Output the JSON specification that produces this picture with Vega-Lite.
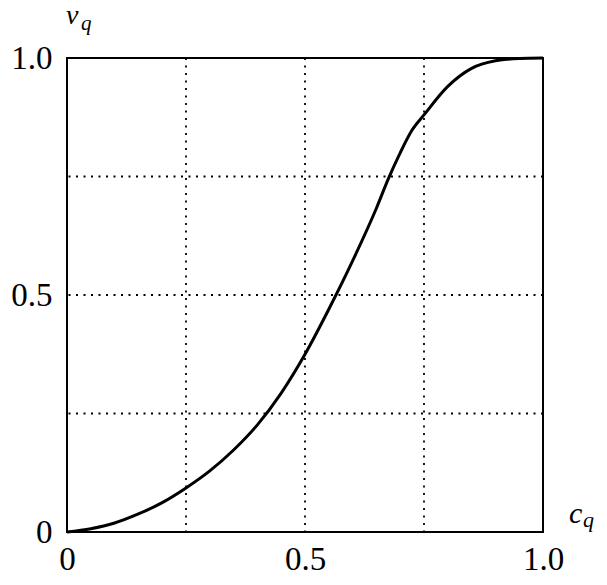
{
  "$schema": "https://vega.github.io/schema/vega-lite/v6.json",
  "width": 476,
  "height": 474,
  "autosize": {"type": "none"},
  "padding": {"left": 67, "top": 58, "right": 64, "bottom": 53},
  "background": "white",
  "config": {
    "view": {"stroke": "black", "strokeWidth": 2},
    "font": "'Liberation Serif', 'DejaVu Serif', serif",
    "text": {"font": "'Liberation Serif', 'DejaVu Serif', serif"},
    "axis": {
      "grid": false, "ticks": false, "domain": false, "labelFlush": false,
      "labelFont": "'Liberation Serif', 'DejaVu Serif', serif", "labelFontSize": 33, "labelColor": "black",
      "title": null
    }
  },
  "datasets": {
    "curve": [
      {"c": 0.0, "v": 0.0},
      {"c": 0.05, "v": 0.007},
      {"c": 0.1, "v": 0.019},
      {"c": 0.15, "v": 0.038},
      {"c": 0.2, "v": 0.062},
      {"c": 0.25, "v": 0.093},
      {"c": 0.3, "v": 0.129},
      {"c": 0.35, "v": 0.173},
      {"c": 0.4, "v": 0.226},
      {"c": 0.45, "v": 0.293},
      {"c": 0.5, "v": 0.375},
      {"c": 0.55, "v": 0.47},
      {"c": 0.6, "v": 0.572},
      {"c": 0.65, "v": 0.683},
      {"c": 0.675, "v": 0.745},
      {"c": 0.7, "v": 0.8},
      {"c": 0.725, "v": 0.848},
      {"c": 0.75, "v": 0.88},
      {"c": 0.8, "v": 0.94},
      {"c": 0.85, "v": 0.978},
      {"c": 0.9, "v": 0.994},
      {"c": 0.95, "v": 0.999},
      {"c": 1.0, "v": 1.0}
    ],
    "grid": [{"g": 0.25}, {"g": 0.5}, {"g": 0.75}]
  },
  "layer": [
    {
      "data": {"name": "grid"},
      "mark": {"type": "rule", "color": "black", "strokeWidth": 1.8, "strokeDash": [2, 5.5]},
      "encoding": {
        "x": {"field": "g", "type": "quantitative", "scale": {"domain": [0, 1], "nice": false},
              "axis": {"values": [0, 0.5, 1], "labelPadding": 11, "labelExpr": "datum.value == 0 ? '0' : format(datum.value, '.1f')"}}
      }
    },
    {
      "data": {"name": "grid"},
      "mark": {"type": "rule", "color": "black", "strokeWidth": 1.8, "strokeDash": [2, 5.5]},
      "encoding": {
        "y": {"field": "g", "type": "quantitative", "scale": {"domain": [0, 1], "nice": false},
              "axis": {"values": [0, 0.5, 1], "labelPadding": 15, "labelBaseline": "middle", "labelExpr": "datum.value == 0 ? '0' : format(datum.value, '.1f')"}}
      }
    },
    {
      "data": {"name": "curve"},
      "mark": {"type": "line", "color": "black", "strokeWidth": 3, "interpolate": "monotone"},
      "encoding": {
        "x": {"field": "c", "type": "quantitative"},
        "y": {"field": "v", "type": "quantitative"}
      }
    },
    {
      "data": {"values": [{"t": "v"}]},
      "mark": {"type": "text", "fontSize": 28, "fontStyle": "italic", "align": "left", "baseline": "alphabetic", "dx": -1, "dy": -34, "color": "black"},
      "encoding": {"x": {"datum": 0}, "y": {"datum": 1}, "text": {"field": "t"}}
    },
    {
      "data": {"values": [{"t": "q"}]},
      "mark": {"type": "text", "fontSize": 21, "fontStyle": "italic", "align": "left", "baseline": "alphabetic", "dx": 14, "dy": -28, "color": "black"},
      "encoding": {"x": {"datum": 0}, "y": {"datum": 1}, "text": {"field": "t"}}
    },
    {
      "data": {"values": [{"t": "c"}]},
      "mark": {"type": "text", "fontSize": 30, "fontStyle": "italic", "align": "left", "baseline": "alphabetic", "dx": 26, "dy": -9, "color": "black"},
      "encoding": {"x": {"datum": 1}, "y": {"datum": 0}, "text": {"field": "t"}}
    },
    {
      "data": {"values": [{"t": "q"}]},
      "mark": {"type": "text", "fontSize": 22, "fontStyle": "italic", "align": "left", "baseline": "alphabetic", "dx": 40, "dy": -5, "color": "black"},
      "encoding": {"x": {"datum": 1}, "y": {"datum": 0}, "text": {"field": "t"}}
    }
  ]
}
